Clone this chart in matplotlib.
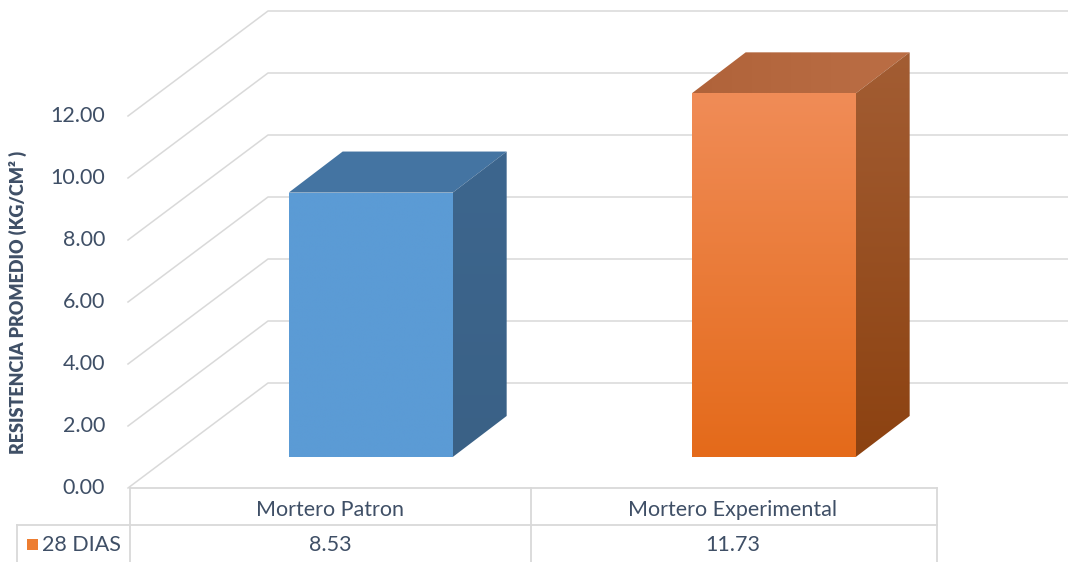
import numpy as np
import matplotlib.pyplot as plt
from matplotlib.patches import Polygon, Rectangle
from matplotlib.colors import LinearSegmentedColormap

categories = ["Mortero Patron", "Mortero Experimental"]
resistencia = [8.53, 11.73]
serie = "28 DIAS"
y_ticks = [0, 2, 4, 6, 8, 10, 12]

TEXT = "#3F4F66"
GRID = "#D9D9D9"
FONT = "Lato"

# pseudo 3D layout: x in pixels, y in kg/cm2, depth 0 (front) .. 1 (back wall)
PX = 31.0                 # pixels per kg/cm2
DX = 138.0                # horizontal shift from front to back wall
DY = 105.0 / PX           # vertical shift from front to back wall
X_LEFT, X_TABLE_END, X_RIGHT = 130, 937, 1068
cat_x = [330, 733]        # category centres on the front plane
bar_w = 164
d_front, d_back = 0.295, 0.686


def proj(x, v, d):
    return x + d * DX, v + d * DY


fig = plt.figure(figsize=(10.68, 5.62), dpi=100)
ax = fig.add_axes([0, 0, 1, 1])
ax.axis("off")

# gridlines: diagonal on the side wall, horizontal on the back wall
for t in y_ticks:
    x0, y0 = proj(X_LEFT, t, 0)
    x1, y1 = proj(X_LEFT, t, 1)
    ax.plot([x0 - 2, x1, X_RIGHT], [y0, y1, y1], color=GRID, lw=1.1, zorder=1)
    ax.text(105, t, f"{t:.2f}", ha="right", va="center", fontsize=15.5,
            color=TEXT, family=FONT)

ax.text(18, 6.0, "RESISTENCIA PROMEDIO (KG/CM² )", rotation=90, ha="center",
        va="center", fontsize=13, fontweight="heavy", color=TEXT, family=FONT)


def grad_fill(poly_pts, c_top, c_bot, extent, z, horizontal=False):
    poly = Polygon(poly_pts, closed=True, facecolor="none", edgecolor="none")
    ax.add_patch(poly)
    cmap = LinearSegmentedColormap.from_list("g", [c_top, c_bot])
    g = np.linspace(0, 1, 256).reshape(-1, 1)
    if horizontal:
        g = g.T
    im = ax.imshow(g, cmap=cmap, extent=extent, origin="upper",
                   aspect="auto", zorder=z, interpolation="bilinear")
    im.set_clip_path(poly)


styles = [
    dict(front=("#5B9BD5", "#5B9BD5"), top=("#4474A2", "#4575A3"),
         side=("#3D668E", "#3A6186")),
    dict(front=("#F08C57", "#E46A1A"), top=("#B0633A", "#BB6E45"),
         side=("#A35D33", "#8C4211")),
]

for xc, val, st in zip(cat_x, resistencia, styles):
    xl, xr = xc - bar_w / 2, xc + bar_w / 2
    fl = proj(xl, 0, d_front)
    fr = proj(xr, 0, d_front)
    tl = proj(xl, val, d_front)
    tr = proj(xr, val, d_front)
    btl = proj(xl, val, d_back)
    btr = proj(xr, val, d_back)
    bbr = proj(xr, 0, d_back)

    front = [fl, fr, tr, tl]
    grad_fill(front, *st["front"], [fl[0], fr[0], fl[1], tl[1]], 3)
    top = [tl, tr, btr, btl]
    grad_fill(top, *st["top"], [tl[0], btr[0], tl[1], btl[1]], 3, horizontal=True)
    side = [fr, bbr, btr, tr]
    grad_fill(side, *st["side"], [fr[0], bbr[0], fr[1], btr[1]], 3)

# data table under the plot
v_row1 = -37 / PX
v_bot = -74 / PX
tab = dict(color=GRID, lw=1.3, zorder=2)
ax.plot([X_LEFT, X_TABLE_END], [0, 0], **tab)
ax.plot([17, X_TABLE_END], [v_row1, v_row1], **tab)
ax.plot([17, 17], [v_row1, v_bot], **tab)
for xv in [X_LEFT, (cat_x[0] + cat_x[1]) / 2 - 1, X_TABLE_END]:
    ax.plot([xv, xv], [0, v_bot], **tab)

for xc, name, val in zip(cat_x, categories, resistencia):
    ax.text(xc, -22 / PX, name, ha="center", va="center", fontsize=15.5,
            color=TEXT, family=FONT)
    ax.text(xc, -57 / PX, f"{val:.2f}", ha="center", va="center", fontsize=15.5,
            color=TEXT, family=FONT)

ax.add_patch(Rectangle((27, -62 / PX), 11, 11 / PX, facecolor="#ED7D31",
                       edgecolor="none", zorder=3))
ax.text(42, -57 / PX, serie, ha="left", va="center", fontsize=15.5,
        color=TEXT, family=FONT)

ax.set_xlim(0, 1068)
ax.set_ylim(-74 / PX, 488 / PX)

fig.savefig("out.png", dpi=100, facecolor="white")
